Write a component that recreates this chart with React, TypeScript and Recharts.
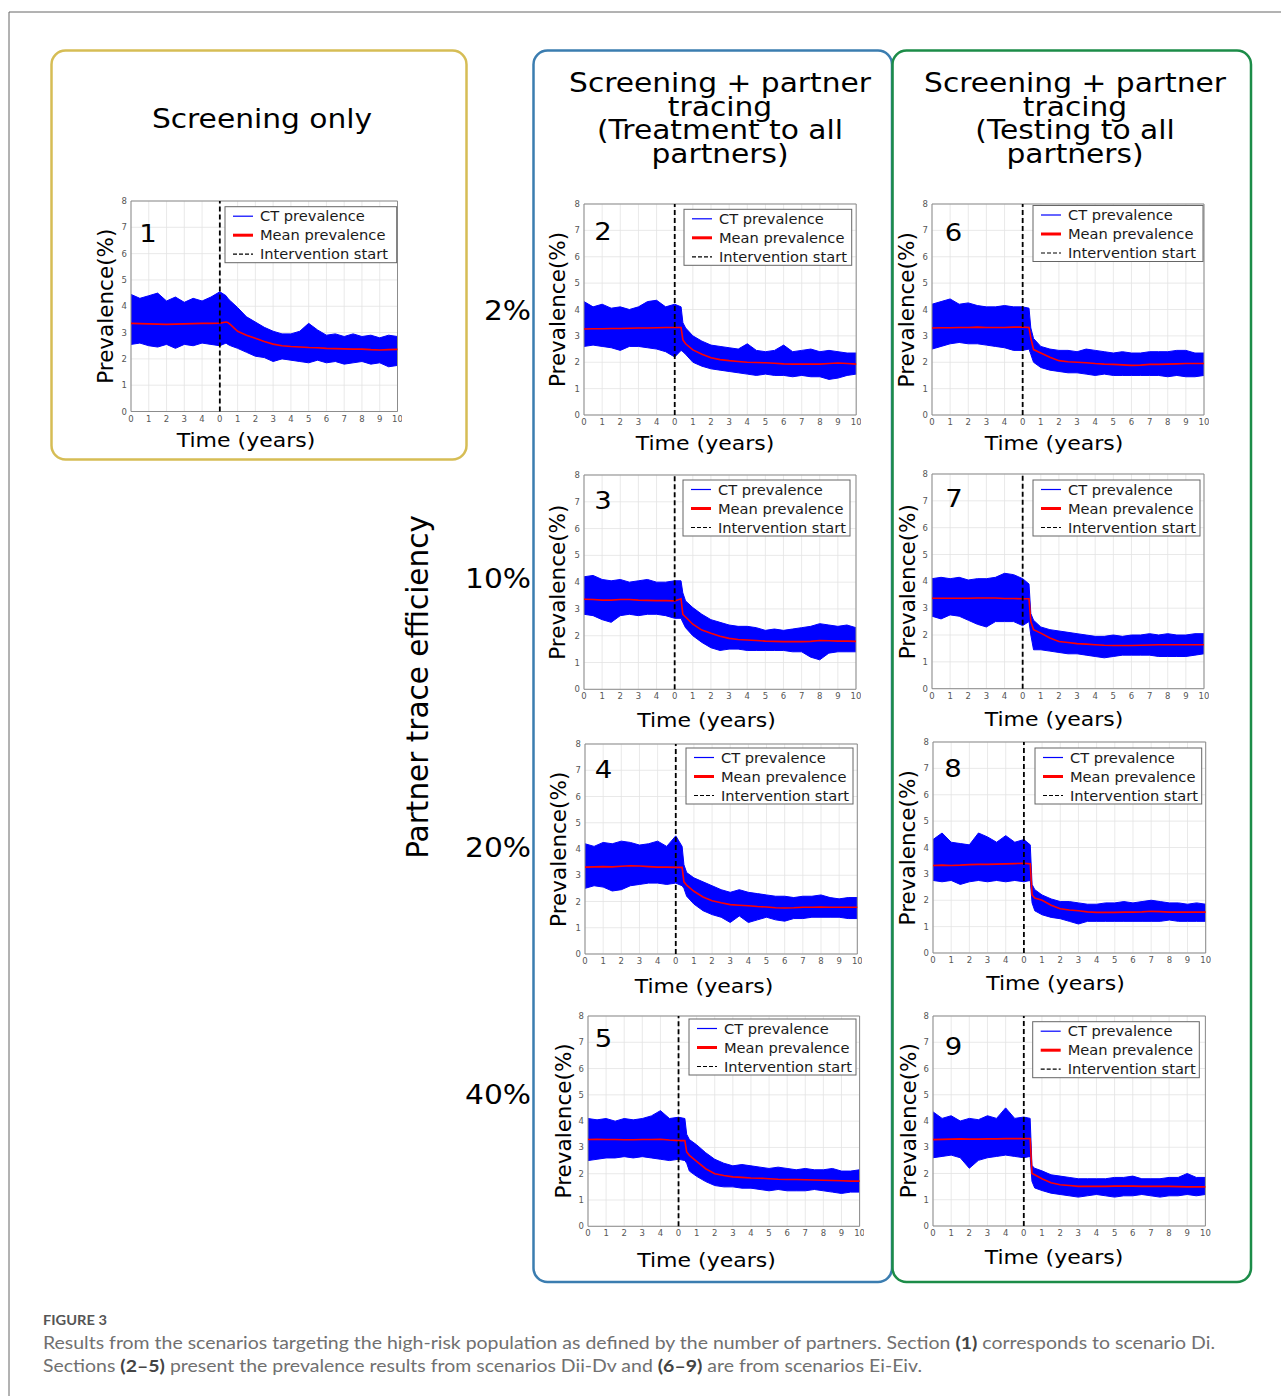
import React from 'react';
import {
  ComposedChart,
  Area,
  Line,
  XAxis,
  YAxis,
  CartesianGrid,
  ReferenceLine,
  ReferenceArea,
} from 'recharts';

// time in years relative to intervention start (-5..0 before, 0..10 after)
const years = [
  -5, -4.5, -4, -3.5, -3, -2.5, -2, -1.5, -1, -0.5, 0, 0.35, 0.45, 0.6, 1, 1.5, 2, 2.5, 3, 3.5, 4,
  4.5, 5, 5.5, 6, 6.5, 7, 7.5, 8, 8.5, 9, 9.5, 10,
];
const xTicks = [-5, -4, -3, -2, -1, 0, 1, 2, 3, 4, 5, 6, 7, 8, 9, 10];
const yTicks = [0, 1, 2, 3, 4, 5, 6, 7, 8];

// 1: screening only
const mean1 = [3.35, 3.34, 3.33, 3.32, 3.31, 3.32, 3.33, 3.34, 3.35, 3.35, 3.36, 3.4, 3.38, 3.3, 3.05, 2.9, 2.78, 2.66, 2.56, 2.5, 2.47, 2.45, 2.43, 2.42, 2.4, 2.39, 2.38, 2.37, 2.37, 2.35, 2.34, 2.35, 2.36];
const hi1 = [4.45, 4.3, 4.4, 4.5, 4.2, 4.35, 4.15, 4.3, 4.2, 4.35, 4.55, 4.4, 4.3, 4.2, 3.95, 3.6, 3.4, 3.2, 3.05, 2.95, 2.95, 3.05, 3.35, 3.1, 2.9, 2.95, 2.85, 2.95, 2.85, 2.9, 2.8, 2.9, 2.85];
const lo1 = [2.55, 2.6, 2.5, 2.45, 2.55, 2.4, 2.55, 2.5, 2.6, 2.55, 2.5, 2.6, 2.55, 2.5, 2.4, 2.25, 2.1, 2.05, 1.9, 2.0, 1.95, 1.9, 1.85, 1.95, 1.85, 1.9, 1.8, 1.85, 1.9, 1.8, 1.85, 1.7, 1.75];

// 2-5: treatment to all partners
const mean2 = [3.26, 3.27, 3.27, 3.28, 3.28, 3.29, 3.3, 3.3, 3.31, 3.32, 3.32, 3.32, 2.85, 2.7, 2.47, 2.3, 2.17, 2.1, 2.06, 2.03, 2.0, 1.99, 1.98, 1.96, 1.94, 1.93, 1.93, 1.93, 1.93, 1.95, 1.97, 1.95, 1.93];
const hi2 = [4.3, 4.1, 4.2, 4.05, 4.1, 4.0, 4.1, 4.3, 4.35, 4.1, 4.2, 4.1, 3.5, 3.3, 3.0, 2.8, 2.65, 2.6, 2.55, 2.5, 2.7, 2.45, 2.4, 2.45, 2.65, 2.4, 2.45, 2.5, 2.4, 2.45, 2.4, 2.35, 2.35];
const lo2 = [2.6, 2.65, 2.6, 2.55, 2.45, 2.6, 2.6, 2.55, 2.5, 2.4, 2.2, 2.45, 2.4, 2.3, 2.0, 1.85, 1.75, 1.7, 1.65, 1.6, 1.55, 1.5, 1.55, 1.5, 1.5, 1.45, 1.5, 1.45, 1.45, 1.35, 1.4, 1.5, 1.55];

const mean3 = [3.36, 3.35, 3.33, 3.33, 3.35, 3.35, 3.33, 3.32, 3.31, 3.31, 3.3, 3.38, 2.8, 2.7, 2.43, 2.21, 2.09, 1.98, 1.9, 1.86, 1.84, 1.82, 1.8, 1.79, 1.78, 1.78, 1.78, 1.79, 1.82, 1.81, 1.8, 1.8, 1.79];
const hi3 = [4.2, 4.25, 4.1, 4.05, 4.1, 4.0, 4.05, 4.1, 4.0, 4.0, 4.05, 4.05, 3.6, 3.3, 3.05, 2.8, 2.6, 2.5, 2.4, 2.35, 2.35, 2.3, 2.2, 2.25, 2.2, 2.25, 2.3, 2.35, 2.45, 2.4, 2.35, 2.4, 2.3];
const lo3 = [2.8, 2.75, 2.6, 2.5, 2.75, 2.8, 2.75, 2.8, 2.8, 2.75, 2.65, 2.65, 2.5, 2.3, 2.0, 1.75, 1.55, 1.45, 1.5, 1.5, 1.45, 1.45, 1.45, 1.45, 1.45, 1.4, 1.4, 1.2, 1.1, 1.35, 1.4, 1.4, 1.4];

const mean4 = [3.31, 3.32, 3.33, 3.32, 3.34, 3.36, 3.35, 3.33, 3.31, 3.31, 3.3, 3.3, 2.75, 2.62, 2.39, 2.17, 2.03, 1.95, 1.88, 1.86, 1.84, 1.81, 1.79, 1.76, 1.75, 1.76, 1.78, 1.78, 1.79, 1.78, 1.78, 1.78, 1.78];
const hi4 = [4.2, 4.1, 4.25, 4.2, 4.3, 4.25, 4.15, 4.2, 4.3, 4.1, 4.5, 4.1, 3.4, 3.1, 2.9, 2.75, 2.6, 2.45, 2.35, 2.45, 2.35, 2.3, 2.25, 2.2, 2.2, 2.15, 2.2, 2.2, 2.25, 2.15, 2.1, 2.15, 2.15];
const lo4 = [2.5, 2.6, 2.55, 2.4, 2.45, 2.6, 2.65, 2.7, 2.7, 2.65, 2.7, 2.6, 2.5, 2.2, 1.9, 1.65, 1.5, 1.4, 1.2, 1.45, 1.2, 1.3, 1.4, 1.3, 1.25, 1.35, 1.35, 1.4, 1.4, 1.4, 1.4, 1.35, 1.35];

const mean5 = [3.3, 3.31, 3.3, 3.3, 3.29, 3.29, 3.3, 3.3, 3.31, 3.28, 3.26, 3.26, 2.83, 2.7, 2.47, 2.19, 2.0, 1.93, 1.88, 1.86, 1.84, 1.83, 1.81, 1.79, 1.78, 1.78, 1.77, 1.76, 1.75, 1.74, 1.73, 1.72, 1.72];
const hi5 = [4.1, 4.05, 4.1, 4.0, 4.1, 4.05, 4.1, 4.2, 4.4, 4.1, 4.15, 4.1, 3.5, 3.3, 3.1, 2.8, 2.55, 2.4, 2.3, 2.35, 2.3, 2.25, 2.2, 2.25, 2.2, 2.15, 2.2, 2.15, 2.15, 2.2, 2.1, 2.1, 2.15];
const lo5 = [2.5, 2.55, 2.6, 2.6, 2.65, 2.6, 2.65, 2.6, 2.55, 2.5, 2.55, 2.5, 2.4, 2.1, 1.9, 1.7, 1.55, 1.5, 1.5, 1.45, 1.45, 1.4, 1.35, 1.4, 1.35, 1.35, 1.35, 1.4, 1.35, 1.3, 1.25, 1.3, 1.3];

// 6-9: testing to all partners
const mean6 = [3.3, 3.31, 3.31, 3.32, 3.32, 3.33, 3.32, 3.32, 3.32, 3.33, 3.33, 3.32, 2.92, 2.48, 2.35, 2.19, 2.06, 2.02, 2.0, 1.98, 1.95, 1.93, 1.92, 1.9, 1.88, 1.89, 1.92, 1.92, 1.93, 1.94, 1.95, 1.95, 1.95];
const hi6 = [4.2, 4.3, 4.4, 4.2, 4.25, 4.15, 4.1, 4.1, 4.15, 4.1, 4.1, 4.05, 3.3, 2.9, 2.6, 2.5, 2.45, 2.45, 2.4, 2.5, 2.45, 2.4, 2.35, 2.4, 2.35, 2.35, 2.4, 2.4, 2.4, 2.45, 2.45, 2.35, 2.35];
const lo6 = [2.5, 2.6, 2.7, 2.75, 2.7, 2.7, 2.65, 2.6, 2.55, 2.45, 2.45, 2.5, 2.3, 2.0, 1.8, 1.7, 1.65, 1.6, 1.6, 1.55, 1.5, 1.55, 1.5, 1.5, 1.5, 1.5, 1.5, 1.5, 1.45, 1.5, 1.45, 1.45, 1.5];

const mean7 = [3.37, 3.37, 3.37, 3.37, 3.37, 3.38, 3.38, 3.38, 3.36, 3.36, 3.35, 3.35, 2.5, 2.2, 2.07, 1.89, 1.76, 1.72, 1.68, 1.66, 1.64, 1.62, 1.61, 1.61, 1.61, 1.62, 1.63, 1.64, 1.64, 1.64, 1.64, 1.64, 1.64];
const hi7 = [4.1, 4.15, 4.1, 4.15, 4.05, 4.1, 4.1, 4.15, 4.3, 4.25, 4.1, 3.9, 2.8, 2.55, 2.3, 2.2, 2.15, 2.1, 2.05, 2.0, 1.95, 1.95, 2.0, 1.95, 2.0, 2.0, 2.05, 2.0, 2.05, 2.0, 2.0, 2.05, 2.05];
const lo7 = [2.7, 2.6, 2.75, 2.7, 2.55, 2.4, 2.3, 2.5, 2.5, 2.5, 2.35, 2.5, 2.0, 1.45, 1.45, 1.4, 1.35, 1.3, 1.3, 1.25, 1.2, 1.15, 1.2, 1.25, 1.25, 1.25, 1.25, 1.2, 1.2, 1.2, 1.2, 1.25, 1.3];

const mean8 = [3.32, 3.33, 3.32, 3.33, 3.35, 3.36, 3.36, 3.37, 3.38, 3.39, 3.4, 3.38, 2.2, 2.08, 2.0, 1.81, 1.68, 1.63, 1.6, 1.56, 1.54, 1.54, 1.54, 1.55, 1.55, 1.56, 1.58, 1.57, 1.55, 1.55, 1.55, 1.55, 1.55];
const hi8 = [4.3, 4.55, 4.2, 4.15, 4.1, 4.55, 4.4, 4.2, 4.45, 4.2, 4.3, 4.1, 2.6, 2.4, 2.2, 2.05, 1.95, 1.95, 1.9, 1.85, 1.85, 1.9, 1.9, 1.95, 1.9, 1.95, 2.0, 1.95, 1.9, 1.9, 1.85, 1.9, 1.85];
const lo8 = [2.75, 2.7, 2.75, 2.6, 2.7, 2.75, 2.7, 2.75, 2.7, 2.75, 2.7, 2.75, 1.9, 1.6, 1.45, 1.35, 1.3, 1.2, 1.1, 1.2, 1.2, 1.2, 1.2, 1.2, 1.2, 1.2, 1.2, 1.2, 1.25, 1.2, 1.2, 1.2, 1.2];

const mean9 = [3.29, 3.3, 3.31, 3.32, 3.31, 3.31, 3.32, 3.32, 3.33, 3.33, 3.33, 3.33, 2.0, 1.95, 1.8, 1.65, 1.57, 1.54, 1.51, 1.51, 1.51, 1.51, 1.52, 1.52, 1.52, 1.51, 1.51, 1.51, 1.51, 1.5, 1.49, 1.49, 1.49];
const hi9 = [4.35, 4.1, 4.2, 4.0, 4.1, 4.05, 4.2, 4.1, 4.5, 4.1, 4.15, 4.1, 2.3, 2.2, 2.1, 1.95, 1.9, 1.85, 1.8, 1.8, 1.8, 1.8, 1.85, 1.85, 1.9, 1.8, 1.8, 1.8, 1.85, 1.85, 2.0, 1.85, 1.85];
const lo9 = [2.6, 2.65, 2.7, 2.6, 2.2, 2.5, 2.6, 2.65, 2.7, 2.65, 2.6, 2.65, 1.7, 1.45, 1.35, 1.25, 1.2, 1.15, 1.1, 1.15, 1.2, 1.15, 1.1, 1.15, 1.15, 1.2, 1.15, 1.1, 1.15, 1.15, 1.2, 1.15, 1.2];

const series = [
  { mean: mean1, hi: hi1, lo: lo1 },
  { mean: mean2, hi: hi2, lo: lo2 },
  { mean: mean3, hi: hi3, lo: lo3 },
  { mean: mean4, hi: hi4, lo: lo4 },
  { mean: mean5, hi: hi5, lo: lo5 },
  { mean: mean6, hi: hi6, lo: lo6 },
  { mean: mean7, hi: hi7, lo: lo7 },
  { mean: mean8, hi: hi8, lo: lo8 },
  { mean: mean9, hi: hi9, lo: lo9 },
];

const legendItems = ['CT prevalence', 'Mean prevalence', 'Intervention start'];
const efficiencyLabels = ['2%', '10%', '20%', '40%'];

// page layout: plot rect, panel number, legend box, axis label spots
const panelLayout = [
  { l: 130.5, t: 201, w: 266.5, h: 210.5, nx: 148, ny: 233, lx: 225, ly: 206.7, lw: 171.7, px: 105.5, tx: 246, ty: 446.7 },
  { l: 583.5, t: 204, w: 272.2, h: 211, nx: 603, ny: 231, lx: 684, ly: 209.3, lw: 167.7, px: 557.5, tx: 705, ty: 450 },
  { l: 583.7, t: 475, w: 272, h: 214.3, nx: 603, ny: 500, lx: 683, ly: 480, lw: 167, px: 557.5, tx: 706.5, ty: 726.7 },
  { l: 585, t: 744.3, w: 272.3, h: 210, nx: 603.5, ny: 769, lx: 686, ly: 748, lw: 167, px: 558, tx: 704, ty: 993.3 },
  { l: 587.7, t: 1015.7, w: 271.6, h: 210.3, nx: 603.5, ny: 1038, lx: 689, ly: 1019, lw: 167, px: 563, tx: 706.5, ty: 1266.7 },
  { l: 932.3, t: 204.3, w: 272, h: 211, nx: 953.5, ny: 231.5, lx: 1033, ly: 205.5, lw: 170, px: 906, tx: 1054, ty: 450 },
  { l: 932.3, t: 474.3, w: 272, h: 214.7, nx: 954, ny: 498, lx: 1033, ly: 480, lw: 167, px: 907.5, tx: 1054, ty: 725.7 },
  { l: 933.3, t: 742.3, w: 272.7, h: 211, nx: 953, ny: 768, lx: 1035, ly: 748, lw: 166.7, px: 907.5, tx: 1055.5, ty: 990 },
  { l: 933.3, t: 1015.7, w: 272.4, h: 210, nx: 953.5, ny: 1046, lx: 1032.7, ly: 1021.7, lw: 166.6, px: 908, tx: 1054, ty: 1264 },
];

const FONT = 'DejaVu Sans';
const ML = 30;
const MT = 5;
const MR = 5;
const XH = 20;

const fmtYear = (v: number) => String(v < 0 ? v + 5 : v);

function Panel({ idx }: { idx: number }) {
  const s = series[idx];
  const b = panelLayout[idx];
  const data = years.map((t, i) => ({ t, band: [s.lo[i], s.hi[i]], mean: s.mean[i] }));
  const tickStyle = { fontSize: 8.5, fill: '#555', fontFamily: FONT };
  return (
    <div style={{ position: 'absolute', left: b.l - ML, top: b.t - MT }}>
      <ComposedChart
        width={b.w + ML + MR}
        height={b.h + MT + XH}
        data={data}
        margin={{ top: MT, right: MR, bottom: 0, left: 0 }}
      >
        <CartesianGrid stroke="#e3e3e3" strokeWidth={0.8} />
        <XAxis
          dataKey="t"
          type="number"
          domain={[-5, 10]}
          ticks={xTicks}
          interval={0}
          height={XH}
          tickFormatter={fmtYear}
          axisLine={false}
          tickLine={false}
          tickSize={3}
          tickMargin={1}
          tick={tickStyle}
        />
        <YAxis
          type="number"
          domain={[0, 8]}
          ticks={yTicks}
          interval={0}
          width={ML}
          axisLine={false}
          tickLine={false}
          tickSize={3}
          tickMargin={1}
          tick={tickStyle}
        />
        <Area
          dataKey="band"
          type="linear"
          stroke="#0000ff"
          strokeWidth={1}
          fill="#0000ff"
          fillOpacity={1}
          dot={false}
          activeDot={false}
          isAnimationActive={false}
        />
        <Line
          dataKey="mean"
          type="linear"
          stroke="#ff0000"
          strokeWidth={1.6}
          dot={false}
          activeDot={false}
          isAnimationActive={false}
        />
        <ReferenceLine x={0} stroke="#000" strokeWidth={1.8} strokeDasharray="5 3" />
        <ReferenceArea x1={-5} x2={10} y1={0} y2={8} fill="none" stroke="#8c8c8c" strokeWidth={1} ifOverflow="visible" />
      </ComposedChart>
    </div>
  );
}

function SText({ x, y, size, anchor = 'middle', sx = 1.1, fill = '#000', children }: any) {
  return (
    <text
      transform={`translate(${x},${y}) scale(${sx},1)`}
      fontSize={size}
      textAnchor={anchor}
      fill={fill}
      fontFamily={FONT}
    >
      {children}
    </text>
  );
}

function LegendBox({ b }: { b: any }) {
  const rowY = (i: number) => b.ly + 9.5 + 19 * i;
  const samples = [
    { stroke: '#0000ff', w: 1.2, dash: undefined },
    { stroke: '#ff0000', w: 3, dash: undefined },
    { stroke: '#000', w: 1.2, dash: '4 2' },
  ];
  return (
    <g>
      <rect x={b.lx} y={b.ly} width={b.lw} height={56} fill="#fff" stroke="#666" strokeWidth={1} />
      {legendItems.map((label, i) => (
        <g key={label}>
          <line
            x1={b.lx + 8}
            x2={b.lx + 28}
            y1={rowY(i)}
            y2={rowY(i)}
            stroke={samples[i].stroke}
            strokeWidth={samples[i].w}
            strokeDasharray={samples[i].dash}
          />
          <SText x={b.lx + 35} y={rowY(i) + 5} size={13.3} anchor="start" fill="#1a1a1a">
            {label}
          </SText>
        </g>
      ))}
    </g>
  );
}

export default function App() {
  const titleLines = (cx: number, lines: string[]) =>
    lines.map((ln, i) => (
      <SText key={ln} x={cx} y={92 + 23.5 * i} size={27}>
        {ln}
      </SText>
    ));
  const effY = [320, 588, 857, 1104];

  return (
    <div
      style={{
        position: 'absolute',
        left: 0,
        top: 0,
        width: 1281,
        height: 1396,
        background: '#fff',
        overflow: 'hidden',
        fontFamily: FONT,
      }}
    >
      {series.map((_, i) => (
        <Panel key={i} idx={i} />
      ))}
      <svg
        width={1281}
        height={1396}
        style={{ position: 'absolute', left: 0, top: 0, pointerEvents: 'none' }}
      >
        {/* page frame */}
        <line x1={9} y1={12} x2={1281} y2={12} stroke="#666" strokeWidth={1} />
        <line x1={9} y1={12} x2={9} y2={1396} stroke="#666" strokeWidth={1} />

        {/* section boxes */}
        <rect x={51.5} y={50.5} width={415} height={409} rx={14} fill="none" stroke="#d6bd55" strokeWidth={2.5} />
        <rect x={533.5} y={50.5} width={358.5} height={1231.5} rx={14} fill="none" stroke="#3b7db0" strokeWidth={2.5} />
        <rect x={892.5} y={50.5} width={358.5} height={1231.5} rx={14} fill="none" stroke="#1c8c48" strokeWidth={2.5} />

        <SText x={262} y={127.7} size={27}>
          Screening only
        </SText>
        {titleLines(720, ['Screening + partner', 'tracing', '(Treatment to all', 'partners)'])}
        {titleLines(1075, ['Screening + partner', 'tracing', '(Testing to all', 'partners)'])}

        <text
          transform="translate(418,687) rotate(-90)"
          textAnchor="middle"
          dominantBaseline="central"
          fontSize={29.5}
          fontFamily={FONT}
        >
          Partner trace efficiency
        </text>
        {efficiencyLabels.map((lab, i) => (
          <SText key={lab} x={531} y={effY[i]} size={27} anchor="end">
            {lab}
          </SText>
        ))}

        {panelLayout.map((b, i) => (
          <g key={i}>
            <LegendBox b={b} />
            <SText x={b.nx} y={b.ny + 9} size={25}>
              {String(i + 1)}
            </SText>
            <text
              transform={`translate(${b.px},${b.t + b.h / 2}) rotate(-90)`}
              textAnchor="middle"
              dominantBaseline="central"
              fontSize={21.5}
              fontFamily={FONT}
            >
              Prevalence(%)
            </text>
            <SText x={b.tx} y={b.ty} size={20}>
              Time (years)
            </SText>
          </g>
        ))}

        {/* caption */}
        <text x={43} y={1325} fontSize={13} fill="#555" fontWeight="bold" fontFamily="Lato" textLength={64} lengthAdjust="spacingAndGlyphs">
          FIGURE 3
        </text>
        <text x={43} y={1349} fontSize={17} fill="#707070" fontFamily="Lato" textLength={1172} lengthAdjust="spacingAndGlyphs">
          Results from the scenarios targeting the high-risk population as defined by the number of partners. Section{' '}
          <tspan fontWeight="bold" fill="#444">(1)</tspan> corresponds to scenario Di.
        </text>
        <text x={43} y={1372} fontSize={17} fill="#707070" fontFamily="Lato" textLength={879} lengthAdjust="spacingAndGlyphs">
          Sections <tspan fontWeight="bold" fill="#444">(2–5)</tspan> present the prevalence results from scenarios Dii-Dv and{' '}
          <tspan fontWeight="bold" fill="#444">(6–9)</tspan> are from scenarios Ei-Eiv.
        </text>
      </svg>
    </div>
  );
}
